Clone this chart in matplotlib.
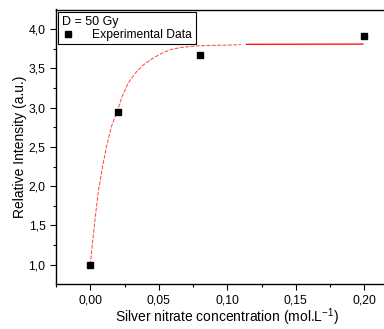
import matplotlib
matplotlib.use("Agg")
import matplotlib.pyplot as plt
from matplotlib.ticker import FuncFormatter, MultipleLocator

# measured points
conc = [0.0, 0.02, 0.08, 0.2]
intensity = [1.0, 2.95, 3.67, 3.91]

# fit curve
fit_x = [0.0, 0.003, 0.0057, 0.009, 0.0118, 0.0155, 0.0196, 0.0235, 0.0276,
         0.033, 0.0385, 0.045, 0.052, 0.059, 0.0666, 0.0787, 0.09, 0.1006, 0.11]
fit_y = [1.0, 1.50, 1.91, 2.25, 2.50, 2.76, 2.95, 3.15, 3.31,
         3.44, 3.54, 3.62, 3.69, 3.74, 3.766, 3.786, 3.792, 3.795, 3.80]
flat_x = [0.114, 0.199]
flat_y = [3.805, 3.808]

plt.rcParams["font.family"] = ["Liberation Sans", "DejaVu Sans"]
plt.rcParams["mathtext.fontset"] = "custom"
plt.rcParams["mathtext.rm"] = "Liberation Sans"

fig = plt.figure(figsize=(3.84, 3.29), dpi=100)
ax = fig.add_axes([56 / 384, 45 / 329, 342.5 / 384, 274.5 / 329])

ax.plot(fit_x, fit_y, color="red", lw=0.7, ls=(0, (4, 1.5)), alpha=0.75)
ax.plot(flat_x, flat_y, color="red", lw=0.9)
ax.plot(conc, intensity, ls="none", marker="s", ms=4.5, color="black",
        label="Experimental Data")

ax.set_xlim(-0.025, 0.225)
ax.set_ylim(0.755, 4.248)
ax.xaxis.set_major_locator(MultipleLocator(0.05))
ax.xaxis.set_minor_locator(MultipleLocator(0.025))
ax.yaxis.set_major_locator(MultipleLocator(0.5))
ax.yaxis.set_minor_locator(MultipleLocator(0.25))
ax.xaxis.set_major_formatter(FuncFormatter(lambda v, p: f"{v:.2f}".replace(".", ",")))
ax.yaxis.set_major_formatter(FuncFormatter(lambda v, p: f"{v:.1f}".replace(".", ",")))

ax.tick_params(which="major", direction="out", length=4, width=0.8, labelsize=8.7,
               top=False, right=False, pad=3.5)
ax.tick_params(which="minor", direction="out", length=2.5, width=0.8,
               top=False, right=False)
for s in ax.spines.values():
    s.set_linewidth(1.0)
ax.spines["right"].set_visible(False)

ax.set_xlabel("Silver nitrate concentration (mol.L$\\mathregular{^{-1}}$)",
              fontsize=10, labelpad=0)
ax.set_ylabel("Relative Intensity (a.u.)", fontsize=10, labelpad=1)

leg = ax.legend(title="D = 50 Gy", loc="upper left", fontsize=8.7, title_fontsize=9,
                fancybox=False, framealpha=1, edgecolor="black",
                borderaxespad=0.2, handlelength=1.0, handletextpad=1.5,
                borderpad=0.3, labelspacing=0.1)
leg._legend_box.align = "left"
leg.get_frame().set_linewidth(0.8)

fig.savefig("out.png", dpi=100)
